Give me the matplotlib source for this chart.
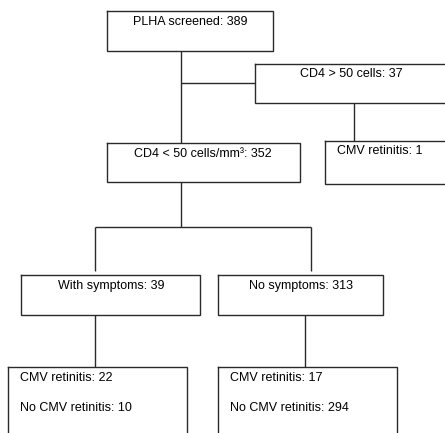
import matplotlib.pyplot as plt

plt.rcParams['font.family'] = ['Liberation Sans', 'DejaVu Sans']

# flowchart content
labels = ['PLHA screened', 'CD4 > 50 cells', 'CD4 < 50 cells/mm³', 'CMV retinitis',
          'With symptoms', 'No symptoms']
counts = [389, 37, 352, 1, 39, 313]
outcome_labels = ['CMV retinitis', 'No CMV retinitis']
with_symptoms = [22, 10]
no_symptoms = [17, 294]

# layout in pixels: x0, y0, x1, y1
boxes = [(107, 11, 273, 51), (255, 64, 450, 103), (107, 143, 300, 182),
         (325, 141, 450, 184), (21, 275, 200, 315), (218, 275, 383, 315)]
text_pos = [(190, 22, 'center'), (351, 74, 'center'), (203, 154, 'center'),
            (337, 151, 'left'), (111, 286, 'center'), (301, 286, 'center')]
lower_boxes = [(8, 367, 187, 440), (218, 367, 397, 440)]

fig = plt.figure(figsize=(4.45, 4.33), dpi=100)
ax = fig.add_axes([0, 0, 1, 1])
ax.set_xlim(0, 445)
ax.set_ylim(433, 0)
ax.axis('off')

lc = '#2a2a2a'
lw = 1.0
fs = 9

def box(b):
    x0, y0, x1, y1 = b
    ax.plot([x0, x1, x1, x0, x0], [y0, y0, y1, y1, y0], color=lc, lw=lw,
            solid_joinstyle='miter')

for b, (tx, ty, ha), lab, n in zip(boxes, text_pos, labels, counts):
    box(b)
    ax.text(tx, ty, f'{lab}: {n}', ha=ha, va='center', fontsize=fs)

for b, vals in zip(lower_boxes, [with_symptoms, no_symptoms]):
    box(b)
    for i, (lab, v) in enumerate(zip(outcome_labels, vals)):
        ax.text(b[0] + 12, 378 + 30 * i, f'{lab}: {v}', ha='left', va='center', fontsize=fs)

# connectors
segs = [((181, 181), (51, 143)), ((181, 255), (83, 83)), ((354, 354), (103, 141)),
        ((181, 181), (182, 227)), ((95, 311), (227, 227)),
        ((95, 95), (227, 271)), ((311, 311), (227, 271)),
        ((95, 95), (315, 367)), ((305, 305), (315, 367))]
for xs, ys in segs:
    ax.plot(xs, ys, color=lc, lw=lw, solid_capstyle='butt')

fig.savefig('out.png', dpi=100)
